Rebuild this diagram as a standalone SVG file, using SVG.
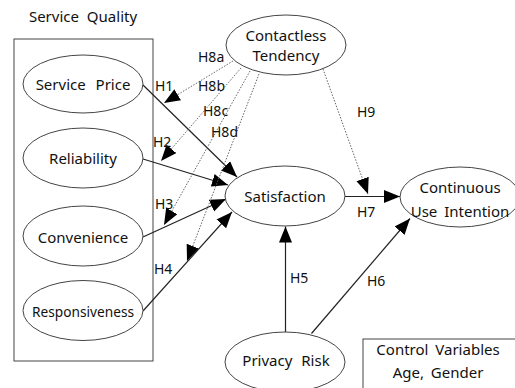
<svg xmlns="http://www.w3.org/2000/svg" width="515" height="388" viewBox="0 0 515 388">
<style>
text{font-family:"Noto Sans","DejaVu Sans","Liberation Sans",sans-serif;fill:#111}
.n{font-size:15px;text-anchor:middle;word-spacing:3px}
.l{font-size:14px}
ellipse,.box{fill:#fff;stroke:#444;stroke-width:1}
.s{stroke:#222;stroke-width:1.2;fill:none;marker-end:url(#ah)}
.d{stroke:#666;stroke-width:1;stroke-dasharray:1.5 1.5;fill:none;marker-end:url(#ah)}
</style>
<defs>
<marker id="ah" markerUnits="userSpaceOnUse" markerWidth="17" markerHeight="14" refX="16" refY="6.5" orient="auto" viewBox="0 0 17 14">
<path d="M0,0 L16,6.5 L0,13 z" fill="#000"/>
</marker>
</defs>
<text class="n" x="83" y="22" style="word-spacing:4px">Service Quality</text>
<rect class="box" x="14" y="39" width="139" height="322"/>
<g id="connectors">
<line class="s" x1="143" y1="85" x2="237" y2="177"/>
<line class="s" x1="143" y1="159" x2="228" y2="185"/>
<line class="s" x1="143" y1="237" x2="226" y2="199"/>
<line class="s" x1="143" y1="311" x2="232" y2="212"/>
<line class="s" x1="285.5" y1="332" x2="285.5" y2="226.5"/>
<line class="s" x1="311.5" y1="333.5" x2="410" y2="218.5"/>
<line class="s" x1="345" y1="196.5" x2="400" y2="196.5"/>
<line class="d" x1="233" y1="61" x2="164" y2="103"/>
<line class="d" x1="241" y1="68" x2="161" y2="161"/>
<line class="d" x1="250" y1="71" x2="164" y2="225"/>
<line class="d" x1="259" y1="74" x2="187" y2="261"/>
<line class="d" x1="323" y1="69" x2="368" y2="194"/>
<text class="l" x="155" y="91">H1</text>
<text class="l" x="153" y="147">H2</text>
<text class="l" x="155" y="209">H3</text>
<text class="l" x="154" y="274">H4</text>
<text class="l" x="290" y="283">H5</text>
<text class="l" x="367" y="286">H6</text>
<text class="l" x="357" y="217">H7</text>
<text class="l" x="198" y="62">H8a</text>
<text class="l" x="198" y="91">H8b</text>
<text class="l" x="203" y="116">H8c</text>
<text class="l" x="211" y="137">H8d</text>
<text class="l" x="357" y="117">H9</text>
</g>
<g id="service-price"><ellipse cx="83" cy="84" rx="60" ry="29"/><text class="n" x="83" y="90" style="word-spacing:6px">Service Price</text></g>
<g id="reliability"><ellipse cx="83" cy="158" rx="60" ry="30"/><text class="n" x="83" y="163.5">Reliability</text></g>
<g id="convenience"><ellipse cx="83" cy="236" rx="60" ry="30"/><text class="n" x="83" y="242.5">Convenience</text></g>
<g id="responsiveness"><ellipse cx="83" cy="310.5" rx="60" ry="30"/><text class="n" x="83" y="316.5" textLength="102" lengthAdjust="spacingAndGlyphs">Responsiveness</text></g>
<g id="contactless"><ellipse cx="286" cy="45" rx="60" ry="30"/><text class="n" x="286" y="40.5">Contactless</text><text class="n" x="286" y="61">Tendency</text></g>
<g id="satisfaction"><ellipse cx="285" cy="196" rx="60" ry="30"/><text class="n" x="285" y="201.5">Satisfaction</text></g>
<g id="continuous"><ellipse cx="460" cy="197" rx="60" ry="30"/><text class="n" x="460" y="193">Continuous</text><text class="n" x="460" y="216.5">Use Intention</text></g>
<g id="privacy"><ellipse cx="285" cy="362" rx="60" ry="30"/><text class="n" x="286" y="366" style="word-spacing:5px">Privacy Risk</text></g>
<g id="control"><rect class="box" x="363" y="339" width="160" height="60"/><text class="n" x="438" y="355">Control Variables</text><text class="n" x="438" y="378">Age, Gender</text></g>
</svg>
